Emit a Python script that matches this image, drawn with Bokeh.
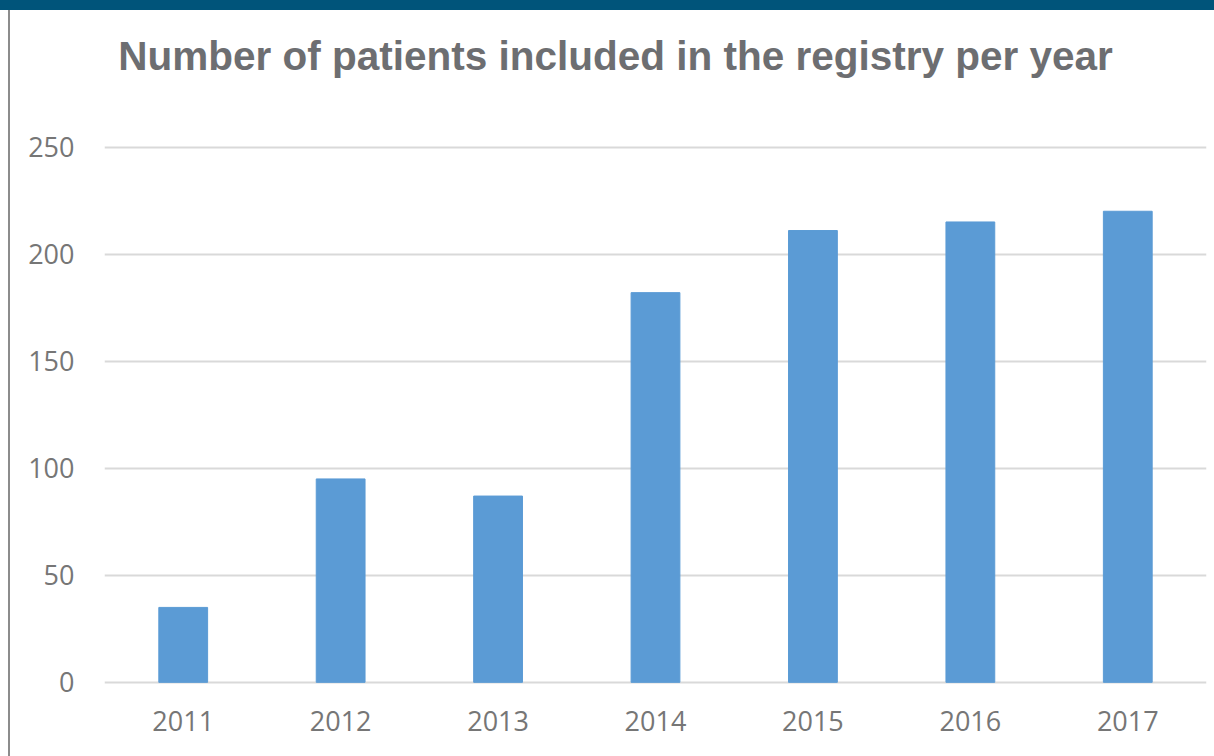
from bokeh.plotting import figure
from bokeh.models import Range1d, FixedTicker, FactorRange, Spacer, Label
from bokeh.layouts import column, row
from bokeh.embed import file_html
from bokeh.resources import INLINE

years = ["2011", "2012", "2013", "2014", "2015", "2016", "2017"]
patients = [35, 95, 87, 182, 211, 215, 220]
y_ticks = [0, 50, 100, 150, 200, 250]
title_text = "Number of patients included in the registry per year"

W, H = 1214, 756
BAND = 10
LEFT = 10

# frame spans from the top of the canvas; only ticks 0..250 get grid lines
p = figure(x_range=FactorRange(*years), y_range=Range1d(-1, 313.75),
           width=W - LEFT, height=H - BAND, output_backend="svg", toolbar_location=None,
           min_border_left=94, min_border_right=8, min_border_top=0, min_border_bottom=72)

p.vbar(x=years, top=patients, width=0.31, fill_color="#5B9BD5", line_color="#5B9BD5")

p.outline_line_color = None
p.background_fill_color = "white"
p.border_fill_color = "white"

p.xgrid.grid_line_color = None
p.ygrid.grid_line_color = "#D9D9D9"
p.ygrid.grid_line_width = 2
p.yaxis.ticker = FixedTicker(ticks=y_ticks)

for ax in (p.xaxis[0], p.yaxis[0]):
    ax.axis_line_color = None
    ax.major_tick_line_color = None
    ax.minor_tick_line_color = None
    ax.major_tick_out = 0
    ax.major_tick_in = 0
    ax.major_label_text_font = "Open Sans"
    ax.major_label_text_font_size = "27px"
    ax.major_label_text_color = "#767676"

p.yaxis.major_label_standoff = 30
p.xaxis.major_label_standoff = 26

title = Label(x=605, y=45.8, x_units="canvas", y_units="canvas", text=title_text,
              text_align="center", text_baseline="alphabetic",
              text_font="Liberation Sans", text_font_style="bold",
              text_font_size="40.5px", text_color="#6D6E71")
p.add_layout(title)

band = Spacer(width=W, height=BAND, styles={"background-color": "#00547A"})
gap = Spacer(width=8, height=H - BAND, styles={"background-color": "white"})
line = Spacer(width=2, height=H - BAND, styles={"background-color": "#8C8C8C"})

layout = column(band, row(gap, line, p, spacing=0), spacing=0)

open("out.html", "w").write(file_html(layout, INLINE))
